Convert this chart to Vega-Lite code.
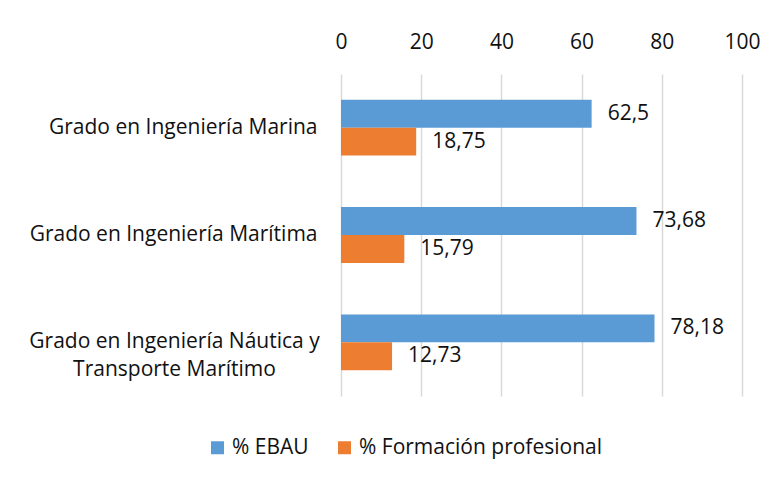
{
  "$schema": "https://vega.github.io/schema/vega-lite/v6.json",
  "autosize": {"type": "none"},
  "width": 401,
  "height": 322,
  "padding": {"left": 341, "top": 74, "right": 37, "bottom": 86},
  "background": "white",
  "config": {
    "view": {"stroke": null},
    "font": "Open Sans",
    "locale": {"number": {"decimal": ",", "thousands": ".", "grouping": [3], "currency": ["", " €"]}}
  },
  "data": {
    "values": [
      {"grado": "Grado en Ingeniería Marina", "serie": "% EBAU", "valor": 62.5},
      {"grado": "Grado en Ingeniería Marina", "serie": "% Formación profesional", "valor": 18.75},
      {"grado": "Grado en Ingeniería Marítima", "serie": "% EBAU", "valor": 73.68},
      {"grado": "Grado en Ingeniería Marítima", "serie": "% Formación profesional", "valor": 15.79},
      {"grado": "Grado en Ingeniería Náutica y Transporte Marítimo", "serie": "% EBAU", "valor": 78.18},
      {"grado": "Grado en Ingeniería Náutica y Transporte Marítimo", "serie": "% Formación profesional", "valor": 12.73}
    ]
  },
  "encoding": {
    "y": {
      "field": "grado",
      "type": "nominal",
      "sort": null,
      "scale": {"paddingInner": 0.48, "paddingOuter": 0.24},
      "axis": {
        "title": null,
        "domain": false,
        "ticks": false,
        "tickSize": 0,
        "labelAlign": {"condition": {"test": "datum.value == 'Grado en Ingeniería Náutica y Transporte Marítimo'", "value": "center"}, "value": "right"},
        "labelPadding": {"condition": {"test": "datum.value == 'Grado en Ingeniería Náutica y Transporte Marítimo'", "value": 167}, "value": 24},
        "labelBaseline": "middle",
        "labelFontSize": 21,
        "labelColor": "#111111",
        "labelLineHeight": 28,
        "labelLimit": 400,
        "labelExpr": "datum.label == 'Grado en Ingeniería Náutica y Transporte Marítimo' ? ['Grado en Ingeniería Náutica y', 'Transporte Marítimo'] : datum.label"
      }
    },
    "yOffset": {
      "field": "serie",
      "type": "nominal",
      "sort": ["% EBAU", "% Formación profesional"],
      "scale": {"paddingInner": 0, "paddingOuter": 0}
    },
    "x": {
      "field": "valor",
      "type": "quantitative",
      "scale": {"domain": [0, 100], "nice": false},
      "axis": {
        "orient": "top",
        "title": null,
        "values": [0, 20, 40, 60, 80, 100],
        "format": "d",
        "domain": false,
        "ticks": false,
        "tickSize": 0,
        "labelFlush": false,
        "labelPadding": 22,
        "labelFontSize": 21,
        "labelColor": "#111111",
        "grid": true,
        "gridColor": "#d9d9d9",
        "gridWidth": 1.5
      }
    }
  },
  "layer": [
    {
      "mark": {"type": "bar"},
      "encoding": {
        "color": {
          "field": "serie",
          "type": "nominal",
          "scale": {"domain": ["% EBAU", "% Formación profesional"], "range": ["#5B9BD5", "#ED7D31"]},
          "legend": {
            "title": null,
            "orient": "none",
            "direction": "horizontal",
            "legendX": -134,
            "legendY": 363,
            "symbolType": "square",
            "symbolSize": 169,
            "symbolStrokeWidth": 0,
            "labelFontSize": 21,
            "labelColor": "#111111",
            "labelOffset": 4,
            "columnPadding": 25,
            "labelLimit": 400
          }
        }
      }
    },
    {
      "mark": {"type": "text", "align": "left", "baseline": "middle", "dx": 16, "fontSize": 21, "color": "#111111"},
      "encoding": {
        "text": {"field": "valor", "type": "quantitative", "format": ".2~f"}
      }
    }
  ]
}
